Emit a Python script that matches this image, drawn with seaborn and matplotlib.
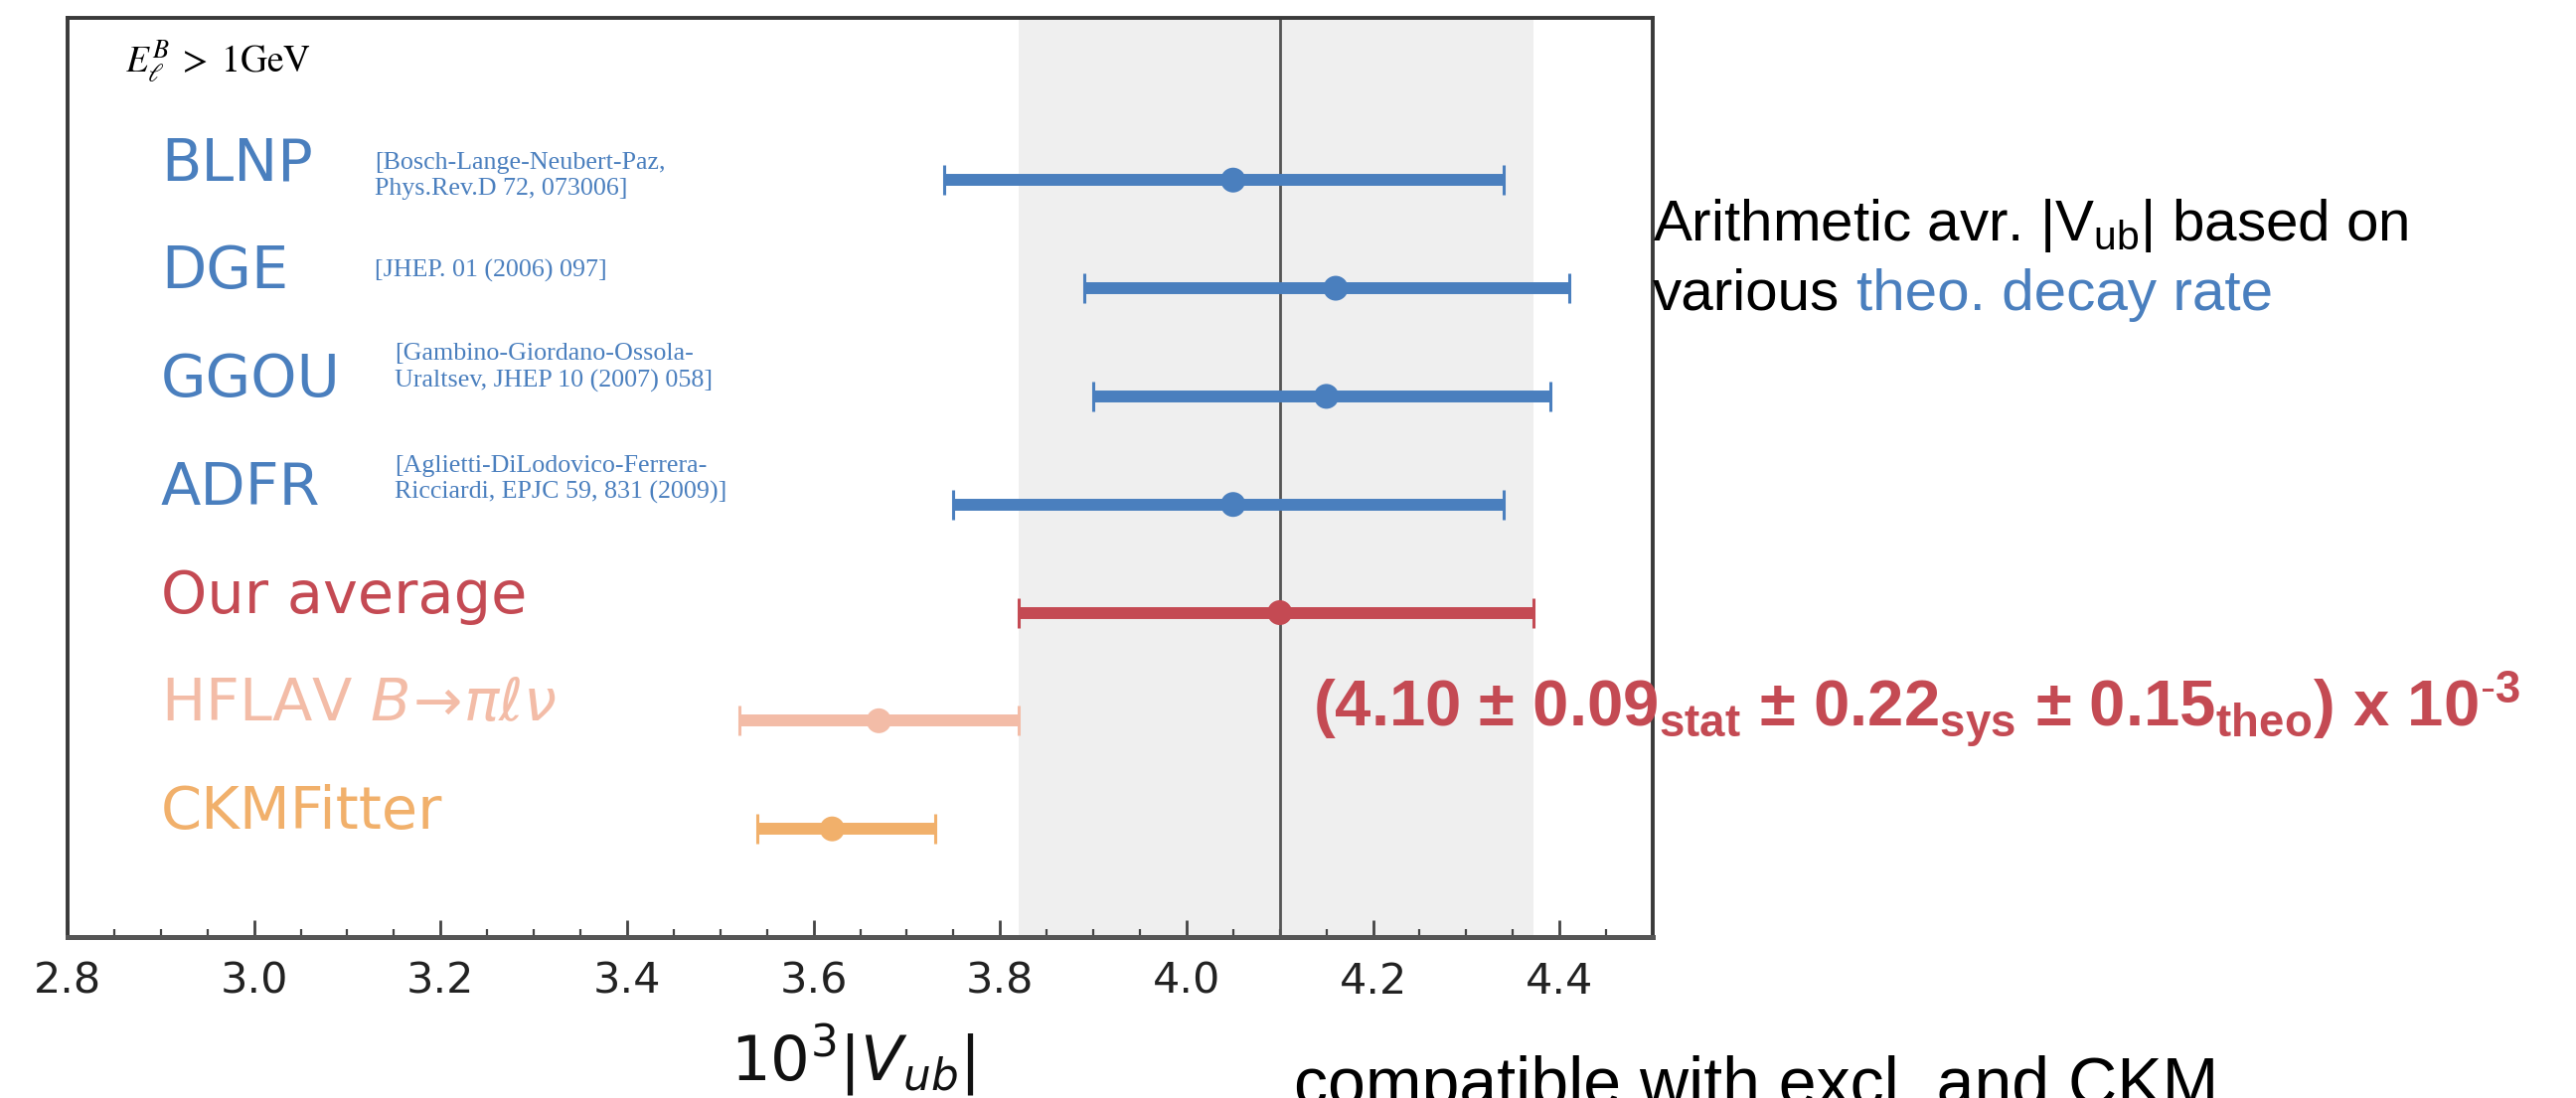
import numpy as np
import pandas as pd
import matplotlib
matplotlib.use("Agg")
import matplotlib.pyplot as plt
from matplotlib.ticker import MultipleLocator
import seaborn as sns

# ---------------- data ----------------
labels = ["BLNP", "DGE", "GGOU", "ADFR", "Our average",
          r"HFLAV $B\!\to\!\pi\ell\nu$", "CKMFitter"]
centers = [4.05, 4.16, 4.15, 4.05, 4.10, 3.67, 3.62]
lows = [3.74, 3.89, 3.90, 3.75, 3.82, 3.52, 3.54]
highs = [4.34, 4.41, 4.39, 4.34, 4.372, 3.82, 3.73]
rows = [7, 6, 5, 4, 3, 2, 1]

refs = ["[Bosch-Lange-Neubert-Paz,\nPhys.Rev.D 72, 073006]",
        "[JHEP. 01 (2006) 097]",
        "[Gambino-Giordano-Ossola-\nUraltsev, JHEP 10 (2007) 058]",
        "[Aglietti-DiLodovico-Ferrera-\nRicciardi, EPJC 59, 831 (2009)]"]

band_lo, band_hi = 3.82, 4.372
avg_value = 4.10
xticks = [2.8, 3.0, 3.2, 3.4, 3.6, 3.8, 4.0, 4.2, 4.4]

# ---------------- style ----------------
BLUE = "#4a7fbe"
RED = "#c44a53"
SALMON = "#f3bca7"
ORANGE = "#f1b06b"
colors = [BLUE, BLUE, BLUE, BLUE, RED, SALMON, ORANGE]

# reference-text anchors (x in data units, baseline of last line relative to row)
ref_x = [3.129, 3.129, 3.151, 3.151]
ref_dy = [-0.14, 0.11, 0.09, 0.055]

sns.set_theme(style="white")
plt.rcParams["font.family"] = ["DejaVu Sans"]
plt.rcParams["mathtext.fontset"] = "custom"
plt.rcParams["mathtext.rm"] = "Liberation Sans"
plt.rcParams["mathtext.it"] = "Liberation Sans:italic"
plt.rcParams["mathtext.bf"] = "Liberation Sans:bold"

W, H = 2592, 1105
fig = plt.figure(figsize=(W / 100, H / 100), dpi=100)
ax_l, ax_r, ax_t, ax_b = 68, 1663, 18, 943
ax = fig.add_axes([ax_l / W, 1 - ax_b / H, (ax_r - ax_l) / W, (ax_b - ax_t) / H])

ax.axvspan(band_lo, band_hi, color="#efefef", lw=0, zorder=0)
ax.axvline(avg_value, color="#555555", lw=2, zorder=1)

df = pd.DataFrame({"label": labels, "center": centers, "low": lows,
                   "high": highs, "row": rows})

for _, r in df.iterrows():
    col = colors[labels.index(r["label"])]
    ax.errorbar(r["center"], r["row"],
                xerr=[[r["center"] - r["low"]], [r["high"] - r["center"]]],
                fmt="none", ecolor=col, elinewidth=8.6, capsize=10.5,
                capthick=2.2, zorder=2)

sns.scatterplot(data=df, x="center", y="row", hue="label",
                palette=dict(zip(labels, colors)), s=18 ** 2, linewidth=0,
                legend=False, ax=ax, zorder=3)

for lab, row, col in zip(labels, rows, colors):
    ax.text(2.9, row, lab, color=col, fontsize=42.5, ha="left", va="baseline",
            family="DejaVu Sans", math_fontfamily="dejavusans", zorder=4)

for txt, row, x, dy in zip(refs, rows[:4], ref_x, ref_dy):
    ax.text(x, row + dy, txt, color=BLUE, fontsize=18.7, ha="left",
            va="baseline", family="Liberation Serif", linespacing=1.25,
            zorder=4)

ax.text(2.862, 8.0, r"$E_{\ell}^{B}\;>\;1\mathrm{GeV}$", fontsize=27,
        ha="left", va="baseline", math_fontfamily="stix", color="black")

ax.set_xlim(2.8, 4.5)
ax.set_ylim(0, 8.5)
ax.set_yticks([])
ax.set_ylabel("")
ax.set_xticks(xticks)
ax.set_xticklabels([f"{t:.1f}" for t in xticks])
ax.xaxis.set_minor_locator(MultipleLocator(0.05))
ax.tick_params(axis="x", which="major", direction="in", length=12, width=2,
               color="#444444", labelsize=31, pad=17, labelcolor="#222222",
               bottom=True, top=False)
ax.tick_params(axis="x", which="minor", direction="in", length=6, width=1.6,
               color="#444444", bottom=True, top=False)
for side, sp in ax.spines.items():
    sp.set_visible(True)
    sp.set_color("#3a3a3a")
    sp.set_linewidth(2.8)
ax.spines["bottom"].set_linewidth(3.6)
ax.spines["bottom"].set_color("#555555")

ax.set_xlabel(r"$10^3|V_{ub}|$", fontsize=45, math_fontfamily="dejavusans",
              color="#111111")
ax.xaxis.set_label_coords(0.495, -0.092)

# ---------------- annotations ----------------
fig.text(1663 / W, 1 - 242 / H, r"Arithmetic avr. |V$_{\mathrm{ub}}$| based on",
         fontsize=42, family="Liberation Sans", math_fontfamily="custom",
         color="black", va="baseline", ha="left")
fig.text(1663 / W, 1 - 312 / H, "various", fontsize=42,
         family="Liberation Sans", color="black", va="baseline", ha="left")
fig.text(1868 / W, 1 - 312 / H, "theo. decay rate", fontsize=42,
         family="Liberation Sans", color=BLUE, va="baseline", ha="left")

fig.text(1321 / W, 1 - 733 / H,
         r"(4.10 ± 0.09$_{\mathbf{stat}}$ ± 0.22$_{\mathbf{sys}}$ ± "
         r"0.15$_{\mathbf{theo}}$) x 10$^{\mathbf{\text{-}3}}$",
         fontsize=47, fontweight="bold", family="Liberation Sans",
         math_fontfamily="custom", color=RED, va="baseline", ha="left",
         zorder=10)

fig.text(1302 / W, 1 - 1112 / H, "compatible with excl. and CKM",
         fontsize=49, family="Liberation Sans", color="black",
         va="baseline", ha="left")

fig.savefig("out.png", dpi=100)
